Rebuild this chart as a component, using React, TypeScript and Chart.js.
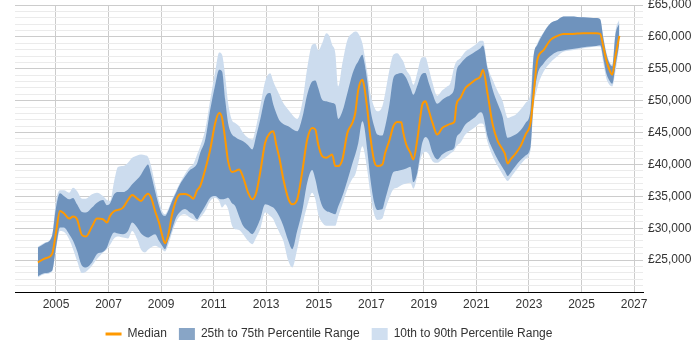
import React, { useEffect, useRef } from "react";
import { Chart, registerables } from "chart.js";

Chart.register(...registerables);

// Decimal year of each observation
const years = [
  2004.31, 2004.58, 2004.85, 2005.0, 2005.15, 2005.3, 2005.5, 2005.65, 2005.8, 2005.99, 2006.14, 2006.37, 2006.56, 2006.79, 2006.94, 2007.06,
  2007.21, 2007.36, 2007.55, 2007.74, 2007.9, 2008.09, 2008.24, 2008.39, 2008.5, 2008.62, 2008.77, 2008.92, 2009.04, 2009.15, 2009.27, 2009.42, 2009.57, 2009.72, 2009.91,
  2010.1, 2010.22, 2010.37, 2010.49, 2010.68, 2010.87, 2011.06, 2011.21, 2011.32, 2011.44, 2011.55, 2011.7, 2011.82, 2011.97, 2012.12, 2012.31, 2012.47, 2012.62, 2012.77,
  2012.96, 2013.15, 2013.27, 2013.38, 2013.5, 2013.65, 2013.84, 2013.99, 2014.18, 2014.37, 2014.56, 2014.75, 2014.87, 2014.98, 2015.13, 2015.29, 2015.4, 2015.51, 2015.63,
  2015.74, 2015.9, 2016.09, 2016.28, 2016.39, 2016.5, 2016.66, 2016.73, 2016.85, 2016.96, 2017.11, 2017.23, 2017.42, 2017.53, 2017.69, 2017.84, 2017.99, 2018.14, 2018.22, 2018.33, 2018.49,
  2018.6, 2018.75, 2018.87, 2018.94, 2019.06, 2019.17, 2019.33, 2019.51, 2019.7, 2019.86, 2020.01, 2020.16, 2020.24, 2020.39, 2020.58, 2020.77, 2020.96, 2021.15, 2021.25,
  2021.43, 2021.62, 2021.81, 2022.0, 2022.08, 2022.19, 2022.3, 2022.49, 2022.68, 2022.87, 2023.06, 2023.17, 2023.32, 2023.55, 2023.82, 2024.09,
  2024.31, 2024.58, 2024.84, 2025.07, 2025.33, 2025.56, 2025.71, 2025.83, 2025.94, 2026.06, 2026.17, 2026.29, 2026.44,
];

// Median salary
const median = [
  24640, 25260, 25940, 29320, 32710, 32340, 31510, 31820, 31410, 28910, 28700, 30260, 31510, 31410, 30890, 31950,
  32660, 32870, 33230, 34430, 35210, 34640, 34270, 35050, 35420, 34790, 32710, 30890, 28910, 27660, 28910, 32190, 34380, 35310, 35360,
  35050, 34640, 35940, 36620, 39220, 42350, 46510, 48070, 47290, 43910, 40520, 38800, 38960, 39220, 38020, 35580, 34530, 35580, 38700,
  43390, 44950, 45210, 43130, 41040, 37760, 34640, 33750, 34530, 38800, 43910, 45730, 45470, 43130, 41300, 41040, 41300, 41560, 39740,
  39740, 40780, 44950, 46510, 48070, 51620, 53280, 52240, 48590, 44430, 40520, 39740, 40000, 41820, 43800, 45990, 46670, 46620, 44950, 43130, 41820,
  40780, 43910, 47550, 49380, 49900, 48700, 46510, 44690, 45730, 46090, 46360, 46670, 49380, 50420, 51980, 52660, 53280, 53800, 54800,
  50940, 46250, 43650, 42350, 41720, 40160, 40780, 41720, 42870, 44690, 46510, 50680, 56410, 57870, 59530, 60160,
  60470, 60470, 60520, 60570, 60570, 60570, 60470, 58490, 56410, 54850, 54060, 56930, 60160,
];

// 75th percentile
const p75 = [
  26980, 27660, 28800, 33230, 35470, 35050, 34530, 34740, 33750, 32550, 32450, 33230, 34010, 34430, 33600, 33900,
  35310, 35680, 35680, 36090, 36880, 37660, 38440, 39480, 40000, 38440, 35830, 33490, 32190, 31930, 32710, 34270, 35570, 36880, 38100,
  39120, 39430, 40160, 41830, 43910, 48600, 52500, 54840, 54580, 50160, 46510, 44690, 44320, 43910, 43650, 43020, 42350, 44500, 47000,
  50500, 51200, 49380, 48070, 46930, 46360, 45990, 45570, 45210, 47290, 50940, 53020, 53180, 51980, 50160, 49900, 49740, 49640, 49380,
  47140, 48330, 51200, 54170, 55370, 56150, 57190, 56150, 53020, 48860, 45990, 44690, 44530, 45990, 49380, 53540, 54170, 54320, 54170, 53540, 51980,
  50940, 52340, 53800, 54220, 54320, 53020, 51090, 49530, 50160, 50570, 50890, 51980, 54580, 55780, 56670, 57190, 57710, 58230, 58650,
  54950, 51720, 49530, 47450, 45730, 44170, 44320, 44690, 45370, 46510, 48600, 56670, 58750, 60570, 62140, 62660,
  63180, 63180, 63130, 63070, 63020, 62970, 62760, 59790, 57450, 55890, 55370, 60310, 62140,
];

// 25th percentile
const p25 = [
  22450, 22970, 23330, 26980, 30100, 30100, 29060, 28020, 26460, 24120, 23860, 24640, 25940, 26300, 26980, 28300,
  29320, 29170, 29060, 29580, 30890, 30110, 29170, 28700, 28540, 28800, 29060, 28020, 27240, 26720, 28020, 29850, 31670, 32550, 33000,
  32450, 32190, 31410, 32190, 33490, 34790, 35050, 34640, 34530, 34640, 34790, 33910, 33490, 31830, 30370, 29590, 29070, 29950, 31410,
  33750, 33490, 33230, 32710, 31830, 30370, 28020, 26720, 29590, 32710, 37140, 39120, 37660, 35570, 33490, 32710, 32550, 32350, 32190,
  33390, 35050, 37500, 40160, 41560, 43280, 46770, 45990, 42080, 37920, 34010, 32870, 32970, 34530, 36880, 38800, 38960, 39120, 39220, 39380, 39640,
  37240, 38700, 41820, 43390, 44320, 43910, 41820, 40780, 41560, 41980, 42240, 42610, 44170, 44950, 46250, 46880, 47450, 48180, 47800,
  44320, 42350, 40780, 39480, 38960, 38180, 38700, 39740, 40680, 41410, 42760, 49640, 54000, 55800, 57000, 57700,
  57870, 58070, 58230, 58390, 58490, 58590, 58700, 56670, 54320, 53180, 52660, 55370, 59010,
];

// 90th percentile
const p90 = [
  27080, 27760, 28910, 34270, 35940, 35940, 35570, 36360, 35830, 34640, 34640, 35310, 35570, 35050, 34430, 34300,
  37300, 39580, 39740, 40260, 41040, 41410, 41560, 41460, 41200, 39740, 36880, 34270, 32710, 32190, 32970, 34530, 35830, 37140, 38500,
  39640, 40000, 41560, 42870, 45470, 50160, 54580, 57550, 57190, 53800, 49640, 46930, 46510, 45990, 44950, 44170, 43910, 46000, 49000,
  53000, 54300, 53020, 51980, 50940, 49640, 48590, 47810, 47140, 49640, 55100, 58750, 58910, 57870, 59010, 60570, 60160, 58750, 57450,
  52240, 55890, 59530, 60570, 60830, 60570, 59010, 57450, 54320, 51200, 49010, 48330, 49120, 51200, 54840, 57190, 57450, 56670, 56150, 54840, 53800,
  52500, 54430, 56410, 56820, 56820, 55370, 52760, 50780, 51620, 52140, 52760, 55370, 56150, 56670, 57710, 58230, 58750, 59380, 59400,
  55370, 53280, 51460, 49900, 48600, 47290, 47450, 47810, 48600, 49640, 51200, 56930, 59010, 60680, 62140, 62660,
  63180, 63180, 63130, 63070, 63020, 62970, 62760, 60050, 57710, 56150, 55630, 60830, 62760,
];

// 10th percentile
const p10 = [
  22290, 22810, 23180, 26720, 29580, 29430, 28280, 26720, 24900, 22970, 23180, 24120, 25160, 26200, 26720, 27400,
  28390, 28700, 28540, 28390, 29580, 28280, 26620, 26200, 26620, 26980, 27240, 26980, 26720, 26360, 27350, 29320, 30990, 31930, 32190,
  31670, 31410, 31150, 31670, 32710, 34270, 34790, 34270, 33230, 33750, 32970, 30370, 29850, 29740, 29070, 28020, 27500, 28540, 29850,
  32450, 31930, 31410, 30370, 29330, 28020, 24900, 23860, 26720, 30370, 33490, 35570, 34530, 32190, 30890, 30370, 30370, 30370, 30370,
  31830, 33750, 36100, 37760, 38440, 40160, 42870, 42080, 38960, 35570, 32190, 31300, 31510, 32970, 34790, 36100, 36360, 36720, 36880, 37030, 37140,
  36200, 38180, 40780, 41560, 41980, 41720, 40520, 40260, 40780, 41200, 41720, 42240, 42870, 43390, 44690, 45310, 45890, 46410, 46400,
  43390, 41300, 39740, 38440, 37920, 37400, 37920, 38960, 40000, 40890, 42240, 48600, 52000, 54500, 56000, 57000,
  57660, 57870, 58070, 58230, 58390, 58490, 58490, 55890, 53540, 52500, 52240, 54580, 58590,
];

// Labelled years on the time axis
const yearTicks = [2005, 2007, 2009, 2011, 2013, 2015, 2017, 2019, 2021, 2023, 2025, 2027];

const ORANGE = "#ff9900";
const DARK = "#6f93bd";
const LIGHT = "#ccdcee";
const DARK_KEY = "#88a5c6";
const LIGHT_KEY = "#d0dff0";
const TEXT = "#333333";

const toPoints = (vals: number[]) => years.map((x, i) => ({ x, y: vals[i] }));

export default function App() {
  const canvasRef = useRef<HTMLCanvasElement>(null);

  useEffect(() => {
    const canvas = canvasRef.current;
    if (!canvas) return;
    const font = { family: "Arial, 'Liberation Sans', sans-serif", size: 12 };
    const band = {
      borderWidth: 0,
      borderColor: "transparent",
      pointRadius: 0,
      pointHoverRadius: 0,
      cubicInterpolationMode: "monotone" as const,
    };

    const chart = new Chart(canvas, {
      type: "line",
      data: {
        datasets: [
          {
            label: "Median",
            data: toPoints(median),
            borderColor: ORANGE,
            backgroundColor: ORANGE,
            borderWidth: 2,
            pointRadius: 0,
            fill: false,
            order: 0,
            cubicInterpolationMode: "monotone",
          },
          {
            label: "25th to 75th Percentile Range",
            data: toPoints(p75),
            backgroundColor: DARK,
            fill: "+1",
            order: 1,
            ...band,
          },
          {
            label: "25th percentile",
            data: toPoints(p25),
            fill: false,
            order: 1,
            ...band,
          },
          {
            label: "10th to 90th Percentile Range",
            data: toPoints(p90),
            backgroundColor: LIGHT,
            fill: "+1",
            order: 2,
            ...band,
          },
          {
            label: "10th percentile",
            data: toPoints(p10),
            fill: false,
            order: 2,
            ...band,
          },
        ],
      },
      options: {
        responsive: false,
        animation: false,
        events: [],
        layout: { padding: { left: 15, top: 5, right: 0, bottom: 0 } },
        scales: {
          x: {
            type: "linear",
            min: 2003.44,
            max: 2027.34,
            afterBuildTicks: (scale: any) => {
              scale.ticks = yearTicks.map((value) => ({ value }));
            },
            afterFit: (scale: any) => {
              scale.height = 24;
              scale.paddingLeft = 0;
              scale.paddingRight = 0;
            },
            ticks: {
              autoSkip: false,
              maxRotation: 0,
              padding: 5,
              color: TEXT,
              font,
              callback: (v: any) => String(v),
            },
            grid: { color: "#cccccc", drawTicks: false },
            border: { color: "#000000", width: 1 },
          },
          y: {
            position: "right",
            min: 20000,
            max: 65000,
            afterFit: (scale: any) => {
              scale.width = 57;
              scale.paddingTop = 0;
              scale.paddingBottom = 0;
            },
            ticks: {
              stepSize: 1000,
              maxTicksLimit: 46,
              autoSkip: false,
              padding: 5,
              color: TEXT,
              font,
              callback: (v: any) =>
                v % 5000 === 0 && v !== 20000 ? "£" + Number(v).toLocaleString("en-GB") : "",
            },
            grid: {
              drawTicks: false,
              color: (c: any) => {
                const v = c.tick ? c.tick.value : 0;
                if (v === 20000) return "rgba(0,0,0,0)";
                return v % 5000 === 0 ? "#cccccc" : "#ebebeb";
              },
            },
            border: { display: false },
          },
        },
        plugins: {
          tooltip: { enabled: false },
          legend: {
            position: "bottom",
            fullSize: false,
            labels: {
              usePointStyle: true,
              pointStyleWidth: 16,
              boxHeight: 12,
              padding: 12,
              color: TEXT,
              font,
              generateLabels: () => [
                {
                  text: "Median",
                  datasetIndex: 0,
                  pointStyle: "line",
                  strokeStyle: ORANGE,
                  fillStyle: ORANGE,
                  lineWidth: 3,
                  hidden: false,
                  fontColor: TEXT,
                },
                {
                  text: "25th to 75th Percentile Range",
                  datasetIndex: 1,
                  pointStyle: "rect",
                  strokeStyle: DARK_KEY,
                  fillStyle: DARK_KEY,
                  lineWidth: 0,
                  hidden: false,
                  fontColor: TEXT,
                },
                {
                  text: "10th to 90th Percentile Range",
                  datasetIndex: 3,
                  pointStyle: "rect",
                  strokeStyle: LIGHT_KEY,
                  fillStyle: LIGHT_KEY,
                  lineWidth: 0,
                  hidden: false,
                  fontColor: TEXT,
                },
              ],
            },
          },
        },
      },
    } as any);

    return () => chart.destroy();
  }, []);

  return (
    <div style={{ position: "fixed", left: 0, top: 0, width: 700, height: 350, background: "#ffffff" }}>
      <canvas ref={canvasRef} width={700} height={350} style={{ display: "block" }} />
    </div>
  );
}
